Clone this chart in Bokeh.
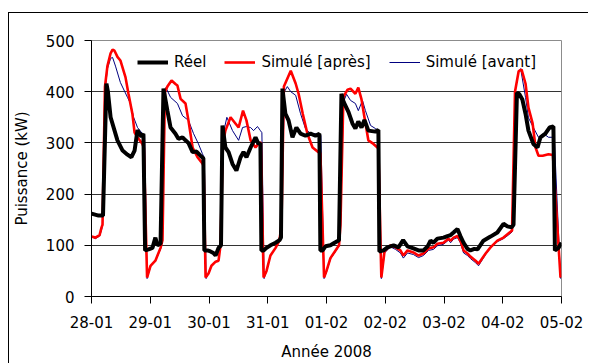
from bokeh.plotting import figure
from bokeh.models import Range1d, FixedTicker, Legend, LegendItem
from bokeh.embed import file_html
from bokeh.resources import INLINE

# hours since 28-01 00:00
day_labels = ["28-01", "29-01", "30-01", "31-01", "01-02", "02-02", "03-02", "04-02", "05-02"]
y_ticks = [0, 100, 200, 300, 400, 500]

reel_t = [0, 2.9, 4.7, 6.1, 6.7, 7.8, 10.6, 12.7, 14.7, 16.3, 17.6, 18.8, 19.6, 20.4, 21.2, 21.9, 23.3,
          24.9, 26.1, 26.9, 28.2, 29.4, 31.0, 32.3, 34.3, 35.5, 37.2, 38.4, 39.6, 41.3, 42.9, 44.5, 45.7, 46.1,
          47.4, 48.6, 49.8, 50.7, 51.9, 52.9, 53.5, 54.7, 56.0, 57.6, 59.2, 60.9, 62.1, 63.3, 65.0, 67.0, 68.2,
          69.0, 69.4, 70.3, 71.5, 73.1, 75.2, 76.8, 77.4, 78.0, 79.2, 80.5, 82.1, 83.7, 85.4, 87.4, 89.5, 91.5,
          93.1, 93.5, 94.4, 95.6, 97.6, 99.3, 101.1, 102.1, 103.0, 105.0, 106.6, 107.8, 109.0, 110.3, 111.5,
          113.1, 116.0, 117.2, 117.6, 119.3, 120.9, 123.4, 125.4, 127.3, 129.1, 131.5, 133.6, 135.6, 137.3,
          138.5, 139.7, 141.3, 143.8, 145.4, 146.7, 147.9, 149.5, 150.7, 152.0, 153.6, 154.8, 156.4, 157.7,
          160.1, 163.0, 165.8, 168.3, 169.9, 171.6, 172.4, 173.8, 174.8, 176.0, 177.3, 178.5, 180.5, 182.2,
          183.4, 185.4, 187.1, 188.7, 189.3, 190.8, 192.0]
reel_v = [162, 158, 158, 416, 400, 350, 305, 285, 277, 272, 285, 325, 318, 312, 318, 90, 92,
          95, 115, 100, 103, 406, 363, 330, 318, 308, 311, 305, 300, 282, 283, 275, 270, 90,
          90, 88, 85, 80, 95, 100, 334, 291, 282, 259, 246, 272, 282, 272, 291, 311, 298,
          300, 90, 90, 95, 100, 105, 110, 115, 406, 357, 344, 311, 330, 318, 314, 318, 314,
          318, 90, 90, 98, 100, 105, 110, 396, 380, 360, 338, 328, 342, 330, 345,
          324, 322, 325, 88, 90, 96, 100, 96, 110, 98, 94, 90, 90, 98,
          109, 105, 113, 115, 118, 120, 125, 132, 118, 105, 93, 90, 93, 92,
          109, 117, 125, 142, 137, 135, 140, 398, 395, 385, 357, 324, 298, 291,
          311, 318, 330, 332, 90, 95, 105]

apres_t = [0, 1.6, 3.3, 4.1, 4.5, 5.5, 6.5, 7.8, 8.6, 9.4, 10.6, 11.8, 13.9, 15.1, 16.7, 17.6, 18.8, 20.8,
           21.4, 22.7, 24.1, 26.1, 28.2, 29.0, 30.0, 31.0, 32.7, 34.3, 35.1, 36.4, 38.4, 39.6, 41.3, 43.3,
           45.3, 45.8, 46.6, 47.8, 49.0, 50.7, 51.9, 52.7, 53.7, 54.7, 56.8, 58.8, 60.1, 61.9, 63.3, 65.0,
           67.0, 68.2, 69.2, 70.3, 71.5, 73.1, 75.2, 76.8, 77.6, 78.6, 81.4, 83.4, 84.6, 86.3, 88.2, 90.3,
           92.7, 93.5, 95.0, 96.0, 97.6, 99.7, 101.1, 101.7, 102.9, 104.6, 105.8, 107.8, 109.0, 110.3, 111.5,
           113.1, 115.2, 116.8, 117.2, 118.4, 119.7, 122.1, 124.2, 126.2, 127.4, 129.1, 131.5, 133.6, 135.6,
           137.7, 139.7, 141.3, 143.8, 145.8, 146.7, 147.9, 149.5, 150.7, 152.0, 153.6, 154.8, 156.9, 158.1,
           161.0, 163.0, 165.8, 168.3, 170.3, 171.8, 173.0, 174.5, 175.7, 177.3, 178.5, 180.2, 181.4, 182.6,
           184.3, 186.7, 187.9, 188.5, 191.6]
apres_v = [117, 115, 120, 135, 140, 410, 450, 475, 482, 480, 468, 461, 428, 396, 357, 320, 311, 298,
           290, 37, 60, 70, 95, 110, 400, 410, 422, 415, 412, 386, 377, 344, 291, 272,
           260, 255, 37, 45, 60, 68, 70, 100, 300, 324, 350, 338, 330, 363, 344, 305,
           291, 298, 301, 37, 50, 80, 95, 110, 140, 410, 441, 416, 396, 357, 318, 291,
           282, 280, 37, 50, 75, 90, 100, 140, 390, 404, 406, 396, 408, 385, 350,
           305, 298, 291, 290, 37, 88, 100, 96, 90, 80, 90, 86, 80, 84,
           94, 96, 103, 105, 113, 109, 115, 118, 109, 90, 84, 78, 70, 64,
           84, 96, 109, 115, 123, 129, 400, 440, 443, 416, 369, 338, 291, 275,
           275, 278, 277, 275, 37]

avant_t = [0, 1.6, 3.3, 4.1, 4.5, 5.5, 6.5, 7.8, 8.6, 9.8, 11.8, 14.7, 15.9, 17.2, 18.8, 20.8, 21.7,
           22.7, 24.1, 26.1, 28.2, 29.0, 29.8, 30.4, 32.3, 35.1, 37.2, 39.6, 41.7, 43.7, 45.3, 46.1, 46.8,
           47.8, 49.0, 50.7, 51.9, 52.7, 53.9, 55.3, 57.6, 60.1, 61.7, 63.3, 65.0, 66.2, 67.8, 69.0, 69.6,
           70.5, 71.5, 73.1, 75.2, 76.8, 77.6, 78.8, 80.0, 81.4, 83.4, 85.4, 87.4, 89.5, 91.5, 93.7, 95.0,
           96.0, 97.6, 99.7, 101.1, 101.7, 102.9, 104.2, 105.8, 107.8, 109.0, 110.7, 111.9, 114.0, 116.0,
           117.4, 118.4, 119.7, 122.1, 124.2, 126.2, 127.4, 129.1, 131.5, 133.6, 135.6, 137.7, 139.7, 141.3,
           143.8, 145.8, 146.7, 147.9, 149.5, 150.7, 152.0, 153.6, 154.8, 156.9, 158.1, 161.0, 163.0, 165.8,
           168.3, 170.3, 171.8, 173.0, 174.5, 175.3, 177.3, 178.5, 180.5, 182.6, 184.6, 186.7, 188.7, 189.1,
           191.6]
avant_v = [117, 113, 118, 130, 138, 400, 445, 465, 467, 450, 418, 389, 377, 350, 330, 318, 315,
           35, 58, 70, 92, 110, 390, 408, 389, 377, 353, 344, 318, 298, 279, 270, 35,
           45, 60, 68, 72, 100, 320, 350, 324, 305, 330, 332, 330, 324, 332, 324, 320,
           35, 50, 80, 95, 108, 135, 400, 410, 400, 393, 357, 328, 318, 318, 315, 35,
           48, 73, 88, 98, 130, 380, 395, 383, 377, 363, 383, 363, 334, 328,
           324, 35, 85, 97, 92, 85, 75, 85, 82, 76, 80, 90, 92, 99,
           102, 110, 105, 112, 115, 105, 85, 80, 74, 66, 60, 82, 95, 107,
           113, 120, 126, 400, 440, 445, 389, 349, 330, 311, 318, 311, 311, 305,
           35]

FONT = "DejaVu Sans"

p = figure(width=580, height=351, output_backend="svg", toolbar_location=None,
           x_range=Range1d(0, 192), y_range=Range1d(0, 500),
           min_border_left=82, min_border_top=27, min_border_right=28, min_border_bottom=68,
           styles={"margin-left": "8px", "margin-top": "12px",
                   "border-left": "1px solid black", "border-top": "1px solid black"})

p.outline_line_color = "#8c8c8c"
p.outline_line_width = 1

r_avant = p.line(avant_t, avant_v, line_color="#000080", line_width=1)
r_apres = p.line(apres_t, apres_v, line_color="#ff0000", line_width=2.6)
r_reel = p.line(reel_t, reel_v, line_color="black", line_width=4)

p.xgrid.visible = False
p.ygrid.grid_line_color = "#333333"
p.ygrid.grid_line_width = 1
p.ygrid.ticker = FixedTicker(ticks=y_ticks)

p.xaxis.ticker = FixedTicker(ticks=[24 * i for i in range(len(day_labels))])
p.xaxis.major_label_overrides = {24 * i: lab for i, lab in enumerate(day_labels)}
p.yaxis.ticker = FixedTicker(ticks=y_ticks)

for ax in (p.xaxis[0], p.yaxis[0]):
    ax.axis_line_color = "black"
    ax.axis_line_width = 1
    ax.major_tick_line_color = "black"
    ax.major_tick_in = 0
    ax.major_tick_out = 7
    ax.minor_tick_line_color = None
    ax.major_label_text_font = FONT
    ax.major_label_text_font_size = "15px"
    ax.major_label_text_color = "black"
    ax.axis_label_text_font = FONT
    ax.axis_label_text_font_size = "15px"
    ax.axis_label_text_font_style = "normal"
    ax.axis_label_text_color = "black"

p.xaxis.axis_label = "Année 2008"
p.yaxis.axis_label = "Puissance (kW)"
p.xaxis.major_label_standoff = 12
p.xaxis.axis_label_standoff = 12
p.yaxis.major_label_standoff = 10
p.yaxis.axis_label_standoff = 12

legend = Legend(items=[LegendItem(label="Réel", renderers=[r_reel]),
                       LegendItem(label="Simulé [après]", renderers=[r_apres]),
                       LegendItem(label="Simulé [avant]", renderers=[r_avant])],
                orientation="horizontal", location=(46, 224))
legend.padding = 0
legend.margin = 0
legend.spacing = 18
legend.glyph_width = 31
legend.label_standoff = 6
legend.border_line_color = None
legend.background_fill_alpha = 0
legend.label_text_font = FONT
legend.label_text_font_size = "15px"
legend.label_text_color = "black"
p.add_layout(legend, "center")

open("out.html", "w").write(file_html(p, INLINE))
